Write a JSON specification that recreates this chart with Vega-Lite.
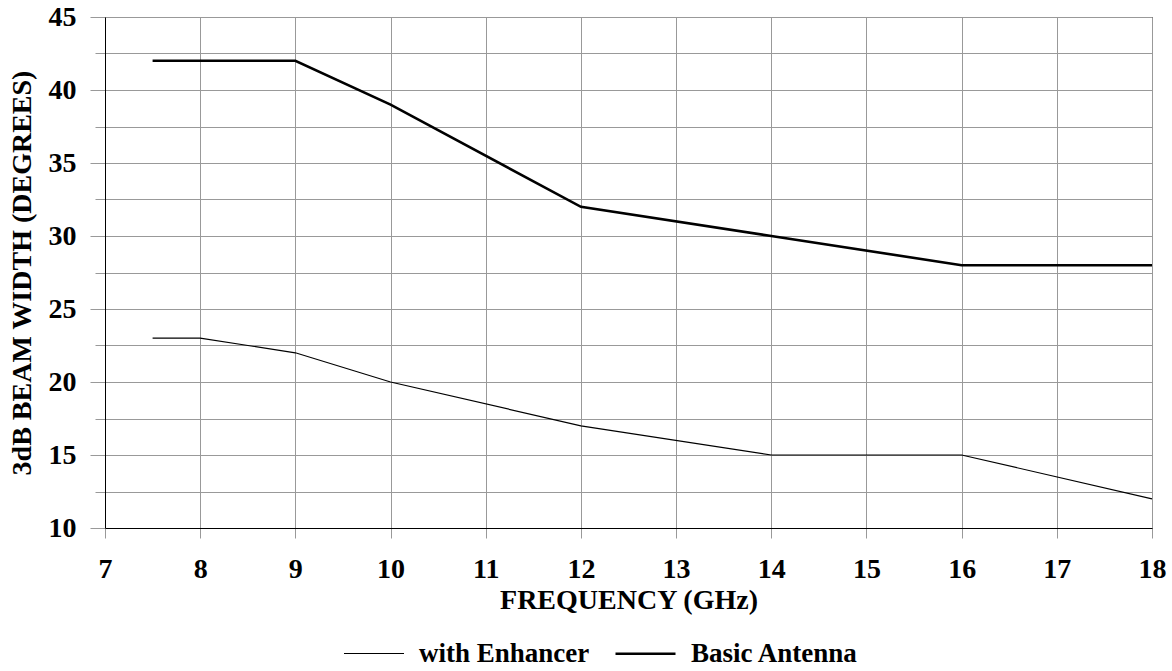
{
  "$schema": "https://vega.github.io/schema/vega-lite/v6.json",
  "width": 1047,
  "height": 511,
  "autosize": {"type": "none"},
  "padding": {"left": 105, "top": 17, "right": 20, "bottom": 143},
  "background": "white",
  "config": {
    "font": "Liberation Serif, Times New Roman, DejaVu Serif, serif",
    "view": {"stroke": "#000", "strokeWidth": 1},
    "axis": {
      "labelFont": "Liberation Serif, Times New Roman, DejaVu Serif, serif",
      "labelFontWeight": "bold",
      "labelFontSize": 28,
      "labelColor": "#000",
      "titleFont": "Liberation Serif, Times New Roman, DejaVu Serif, serif",
      "titleFontWeight": "bold",
      "titleFontSize": 28,
      "titleColor": "#000",
      "gridColor": "#999",
      "gridWidth": 1,
      "gridOpacity": 1,
      "tickColor": "#999",
      "domainColor": "#000"
    }
  },
  "data": {
    "values": [
      {"freq": 7.5, "width": 42, "series": "Basic Antenna"},
      {"freq": 8, "width": 42, "series": "Basic Antenna"},
      {"freq": 9, "width": 42, "series": "Basic Antenna"},
      {"freq": 10, "width": 39, "series": "Basic Antenna"},
      {"freq": 12, "width": 32, "series": "Basic Antenna"},
      {"freq": 14, "width": 30, "series": "Basic Antenna"},
      {"freq": 16, "width": 28, "series": "Basic Antenna"},
      {"freq": 18, "width": 28, "series": "Basic Antenna"},
      {"freq": 7.5, "width": 23, "series": "with Enhancer"},
      {"freq": 8, "width": 23, "series": "with Enhancer"},
      {"freq": 9, "width": 22, "series": "with Enhancer"},
      {"freq": 10, "width": 20, "series": "with Enhancer"},
      {"freq": 12, "width": 17, "series": "with Enhancer"},
      {"freq": 14, "width": 15, "series": "with Enhancer"},
      {"freq": 16, "width": 15, "series": "with Enhancer"},
      {"freq": 18, "width": 12, "series": "with Enhancer"}
    ]
  },
  "mark": {"type": "line", "color": "#000", "strokeJoin": "miter"},
  "encoding": {
    "x": {
      "field": "freq",
      "type": "quantitative",
      "scale": {"domain": [7, 18], "nice": false, "zero": false},
      "axis": {
        "title": "FREQUENCY (GHz)",
        "format": "d",
        "values": [7, 7.5, 8, 8.5, 9, 9.5, 10, 10.5, 11, 11.5, 12, 12.5, 13, 13.5, 14, 14.5, 15, 15.5, 16, 16.5, 17, 17.5, 18],
        "labelExpr": "datum.value % 1 === 0 ? format(datum.value, 'd') : ''",
        "tickSize": {"condition": {"test": "datum.value % 1 !== 0", "value": 7}, "value": 10},
        "labelPadding": 17,
        "titlePadding": 3,
        "labelFlush": false,
        "labelOverlap": false
      }
    },
    "y": {
      "field": "width",
      "type": "quantitative",
      "scale": {"domain": [10, 45], "nice": false, "zero": false},
      "axis": {
        "title": "3dB BEAM WIDTH (DEGREES)",
        "values": [10, 12.5, 15, 17.5, 20, 22.5, 25, 27.5, 30, 32.5, 35, 37.5, 40, 42.5, 45],
        "labelExpr": "datum.value % 5 === 0 ? format(datum.value, 'd') : ''",
        "tickSize": {"condition": {"test": "datum.value % 5 !== 0", "value": 10}, "value": 15},
        "labelPadding": 14,
        "titlePadding": 12,
        "labelFlush": false,
        "labelOverlap": false
      }
    },
    "strokeWidth": {
      "field": "series",
      "type": "nominal",
      "scale": {"domain": ["with Enhancer", "Basic Antenna"], "range": [1.2, 2.6]},
      "legend": {
        "title": null,
        "orient": "none",
        "legendX": 238,
        "legendY": 605,
        "direction": "horizontal",
        "symbolType": "stroke",
        "symbolSize": 3600,
        "symbolStrokeColor": "#000",
        "labelFont": "Liberation Serif, Times New Roman, DejaVu Serif, serif",
        "labelFontWeight": "bold",
        "labelFontSize": 27,
        "labelColor": "#000",
        "labelLimit": 400,
        "labelOffset": 14,
        "columnPadding": 20
      }
    }
  }
}
